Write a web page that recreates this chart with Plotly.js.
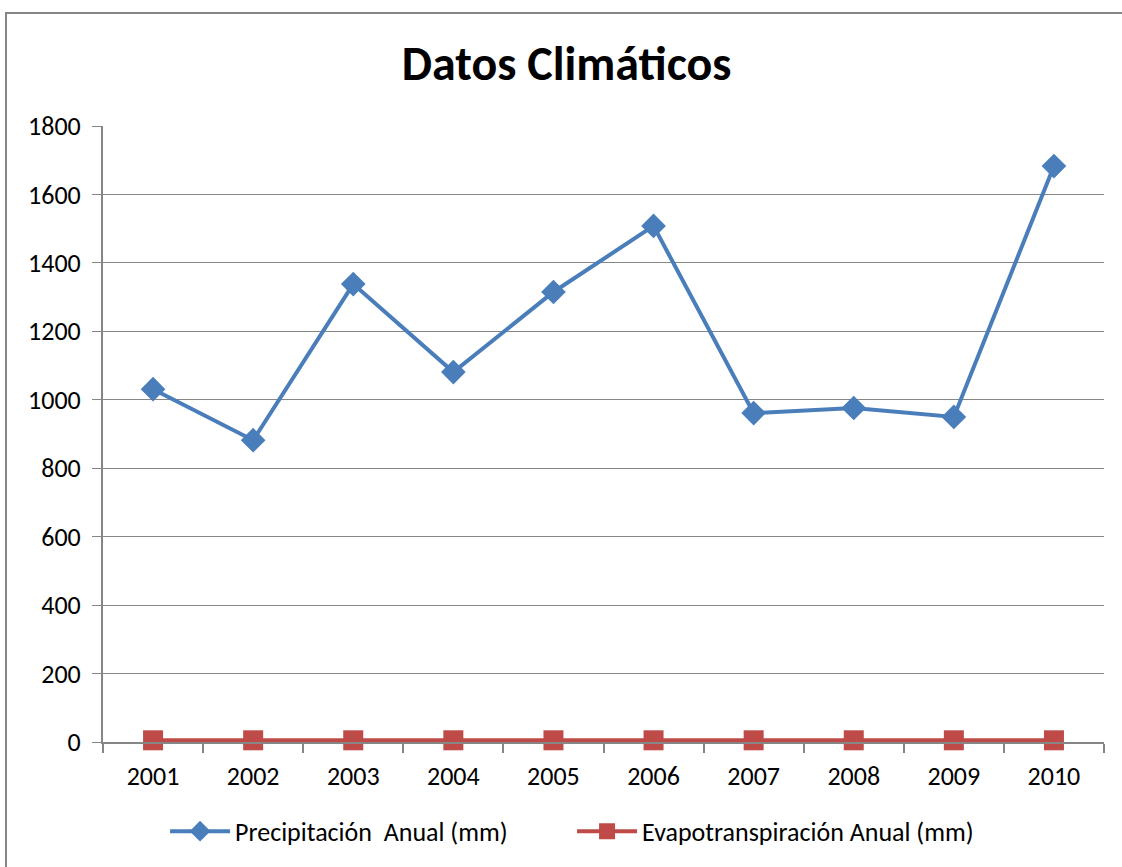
<!DOCTYPE html>
<html>
<head>
<meta charset="utf-8">
<script src="https://cdn.plot.ly/plotly-3.0.1.min.js"></script>
<style>
html,body{margin:0;padding:0;background:#fff;}
#wrap{position:relative;width:1122px;height:867px;}
#chart{position:absolute;left:0;top:0;width:1122px;height:867px;}
#frame{position:absolute;left:5px;top:12px;width:1130px;height:900px;border:2px solid #868686;pointer-events:none;}
</style>
</head>
<body>
<div id="wrap"><div id="chart"></div><div id="frame"></div></div>
<script>
const years = ["2001","2002","2003","2004","2005","2006","2007","2008","2009","2010"];
const precipitacion = [1031, 882, 1338, 1081, 1315, 1508, 961, 976, 950, 1683];
const evapotranspiracion = [5, 5, 5, 5, 5, 5, 5, 5, 5, 5];
const yTicks = [0, 200, 400, 600, 800, 1000, 1200, 1400, 1600, 1800];

const FONT = "Carlito, Calibri, 'Liberation Sans Narrow', 'Open Sans', sans-serif";

const traces = [
  {
    x: years, y: precipitacion, type: "scatter", mode: "lines+markers",
    name: "Precipitación  Anual (mm)", cliponaxis: false,
    line: {color: "#4a7ebb", width: 4},
    marker: {symbol: "diamond", size: 19, color: "#4a7ebb"}
  },
  {
    x: years, y: evapotranspiracion, type: "scatter", mode: "lines+markers",
    name: "Evapotranspiración Anual (mm)", cliponaxis: false,
    line: {color: "#be4b48", width: 4},
    marker: {symbol: "square", size: 20, color: "#be4b48"}
  }
];

const layout = {
  width: 1122, height: 867,
  paper_bgcolor: "rgba(0,0,0,0)", plot_bgcolor: "#fff",
  margin: {l: 103, r: 18, t: 126, b: 125},
  title: {text: "<b>Datos Climáticos</b>", font: {family: FONT, size: 48, color: "#000"},
          x: 0.505, xanchor: "center", y: 0.927, yanchor: "middle"},
  font: {family: FONT, size: 26, color: "#000"},
  xaxis: {
    type: "category", range: [-0.5, 9.5], tickson: "boundaries",
    showgrid: false, showline: true, linecolor: "#868686", linewidth: 2,
    ticks: "outside", ticklen: 9, tickcolor: "#868686", tickwidth: 2,
    tickfont: {family: FONT, size: 26}, ticklabelstandoff: 10, fixedrange: true
  },
  yaxis: {
    range: [0, 1800], tickvals: yTicks, showgrid: true, gridcolor: "#868686", gridwidth: 1,
    showline: true, linecolor: "#868686", linewidth: 2, zeroline: false,
    ticks: "outside", ticklen: 9, tickcolor: "#868686", tickwidth: 1,
    tickfont: {family: FONT, size: 26}, ticklabelstandoff: 6, fixedrange: true
  },
  showlegend: true,
  legend: {orientation: "h", x: 0.062, xanchor: "left", y: -0.145, yanchor: "middle",
           font: {family: FONT, size: 26}, itemwidth: 60, tracegroupgap: 0,
           entrywidth: 332, entrywidthmode: "pixels",
           bgcolor: "rgba(0,0,0,0)"}
};

Plotly.newPlot("chart", traces, layout, {displayModeBar: false, staticPlot: true});
</script>
</body>
</html>
